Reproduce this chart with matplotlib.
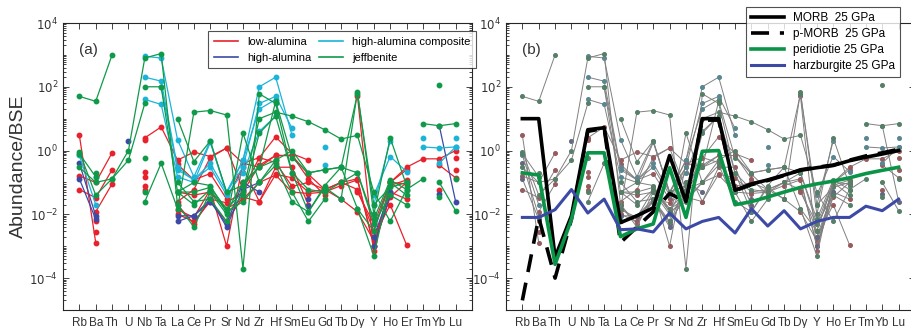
import numpy as np
import matplotlib
matplotlib.use('Agg')
import matplotlib.pyplot as plt
import matplotlib.ticker as mticker
from matplotlib.lines import Line2D

plt.rcParams['font.family'] = ['Liberation Sans', 'DejaVu Sans']

n = np.nan
elements = ['Rb', 'Ba', 'Th', 'U', 'Nb', 'Ta', 'La', 'Ce', 'Pr', 'Sr', 'Nd', 'Zr',
            'Hf', 'Sm', 'Eu', 'Gd', 'Tb', 'Dy', 'Y', 'Ho', 'Er', 'Tm', 'Yb', 'Lu']

# inclusion analyses (Abundance / BSE)
#        Rb    Ba      Th    U    Nb    Ta   La    Ce     Pr    Sr     Nd    Zr    Hf   Sm    Eu    Gd    Tb   Dy   Y       Ho    Er      Tm    Yb    Lu
low_alumina = [
    [3.0,  0.0013, n,    n,   2.5,  5.5, 0.5,  0.9,   0.65, 1.2,   0.4,  0.6,  2.7, 0.8,  0.5,  n,    n,   50,  0.0007, 0.1,  0.3,    0.55, 0.55, 1.0],
    [0.16, 0.1,    0.85, n,   2.2,  n,   0.02, 0.005, 0.03, 0.023, 0.05, 0.35, 0.7, 0.7,  0.18, 0.06, 0.1, 0.13, 0.001, 0.035, 0.1,   n,    n,    n],
    [0.06, 0.033,  0.25, n,   0.22, n,   0.37, 0.12,  0.19, 0.03,  0.3,  0.025, 0.18, 0.14, 0.05, 0.06, 0.1, 0.06, 0.003, 0.1, 0.09,   n,    n,    0.6],
    [n,    0.012,  0.09, n,   0.15, n,   0.025, 0.06, 0.6,  1.2,   0.06, 0.6,  0.42, 0.075, 0.1, 0.06, 0.03, 0.012, 0.0015, 0.05, 0.03, n,  n,    0.25],
    [n,    0.006,  n,    n,   0.075, n,  0.014, 0.008, 0.06, 0.001, 0.4, 0.3,  0.7, 0.7,  0.13, 0.04, n,   n,   0.002,  0.02, 0.0011, n,    n,    n],
    [n,    0.0027, n,    n,   0.06, n,   0.05, 0.04,  0.05, 0.015, 0.03, 0.1,  0.17, 0.05, 0.045, 0.05, 0.08, 0.12, 0.001, 0.08, 0.12, n,   0.06, n],
    [n,    n,      n,    n,   n,    n,   0.01, 0.006, 0.025, 0.006, 0.035, 0.025, 0.3, 0.3, 0.02, n,   n,   0.05, 0.005, 0.1,  0.25,   n,    0.35, 0.14],
]
high_alumina = [
    [0.4,  0.009,  n,    2.0, n,    n,   0.009, 0.009, 0.025, 0.005, 0.1, 0.05, n,   n,    0.03, n,    0.03, n,   0.001,  0.04, n,      n,    6.0,  0.025],
    [0.13, 0.007,  n,    n,   n,    n,   0.006, 0.009, 0.03, 0.004, 0.06, 0.1,  n,   n,    0.018, n,   n,   n,   0.002,  0.05, n,      n,    0.045, n],
]
composite = [
    [0.7,  0.02,   n,    n,   900,  800, 2.2,  0.15,  2.0,  0.045, 0.5,  100,  200, 3.0,  n,    1.3,  n,   n,   0.04,   0.65, 0.22,   n,    n,    2.5],
    [n,    0.15,   n,    n,   200,  150, 0.3,  0.12,  0.4,  0.05,  0.3,  30,   50,  5.0,  n,    0.35, n,   n,   0.02,   2.0,  n,      2.5,  n,    n],
    [n,    n,      n,    n,   40,   28,  0.15, 0.1,   1.8,  0.05,  0.5,  20,   40,  n,    n,    n,    n,   n,   0.01,   n,    n,      1.3,  1.2,  1.3],
    [n,    n,      n,    n,   n,    100, 0.25, 0.12,  0.3,  0.04,  0.2,  4,    12,  n,    n,    n,    n,   n,   0.005,  n,    n,      n,    0.4,  1.3],
]
jeffbenite = [
    [50,   35,     1000, n,   n,    n,   n,    n,     n,    n,     n,    n,    n,   n,    n,    n,    n,   n,   n,      n,    n,      n,    110,  n],
    [0.9,  0.04,   0.13, 1.0, 800,  1100, 0.02, 0.004, 0.05, 0.01,  0.04, 3.5,  12,  0.2,  0.012, 0.07, 0.03, 70, 0.01,   2.5,  0.08,   n,    0.035, n],
    [0.3,  0.1,    0.13, 0.5, 30,   n,   10,   0.45,  2.0,  0.05,  0.08, 0.3,  35,  0.6,  0.2,  0.25, 0.3, 60,  0.02,   0.07, 0.1,    n,    n,    n],
    [n,    n,      n,    n,   100,  100, 0.05, 0.05,  0.07, 0.015, 0.05, 10,   16,  12,   8,    4.5,  2.3, 3.0, 0.05,   0.006, 0.06,  0.13, n,    n],
    [n,    n,      n,    n,   0.025, 0.4, 0.015, 16,  18,   13,    0.0002, 60, 30,  0.2,  0.06, 0.05, 0.1, 0.2, 0.005,  0.04, 0.02,   n,    n,    n],
    [n,    n,      n,    n,   0.6,  n,   0.1,  0.025, 0.03, 0.006, 3.5,  0.1,  0.5, 0.05, 0.006, 0.03, n,  0.015, 0.0005, 0.1, 0.04,  n,    0.1,  0.013],
    [0.8,  0.15,   n,    n,   0.05, n,   0.05, 0.1,   0.08, 0.012, 0.1,  0.3,  0.5, 1.0,  0.2,  0.25, 0.3, 0.015, 0.003, 0.1, n,     7,    6,    7],
    [n,    0.2,    n,    n,   n,    n,   0.05, 0.02,  0.06, 0.012, 0.025, 0.1, 0.35, 0.025, 0.012, 0.08, 0.3, 0.2, 0.007, 0.12, 0.06,  n,    n,    0.13],
]

# 25 GPa model compositions
morb = [10, 10, 4.5e-4, 0.009, 4.5, 5.2, 0.0055, 0.009, 0.016, 0.7, 0.025, 10, 10,
        0.057, 0.09, 0.12, 0.17, 0.24, 0.29, 0.34, 0.48, 0.62, 0.78, 1.0]
p_morb = [2e-5, 0.008, 1e-4, 0.007, 4.0, 5.0, 0.0013, 0.004, 0.012, 0.045, 0.025, 9, 9,
          0.055, 0.085, 0.115, 0.165, 0.25, 0.3, 0.35, 0.5, 0.68, 0.85, 1.1]
peridotite = [0.2, 0.17, 2.7e-4, 0.007, 0.85, 0.85, 0.002, 0.0035, 0.005, 0.29, 0.008, 0.95, 1.0,
              0.02, 0.025, 0.035, 0.05, 0.07, 0.09, 0.11, 0.14, 0.19, 0.24, 0.3]
harzburgite = [0.008, 0.008, 0.014, 0.06, 0.011, 0.03, 0.0033, 0.0035, 0.0028, 0.011, 0.0035, 0.006, 0.008,
               0.0026, 0.015, 0.0043, 0.013, 0.0035, 0.006, 0.008, 0.008, 0.018, 0.013, 0.03]

RED, BLUE, CYAN, GREEN = '#e8222c', '#3c4aa6', '#1ab4d8', '#0f9a4a'
groups = [(low_alumina, RED), (high_alumina, BLUE), (composite, CYAN), (jeffbenite, GREEN)]
x = np.arange(len(elements))
AXC = '#262626'
TXT = '#333333'

fig = plt.figure(figsize=(9.11, 3.28), dpi=100)
W, H = 911, 328
axa = fig.add_axes([63 / W, 18 / H, 409 / W, 287 / H])
axb = fig.add_axes([506 / W, 18 / H, 409 / W, 287 / H])


def style(ax):
    ax.set_yscale('log')
    ax.set_ylim(1e-5, 1e4)
    ax.set_xlim(-1, 24)
    ax.set_xticks(x)
    ax.set_xticklabels(elements)
    ax.yaxis.set_major_locator(mticker.FixedLocator([1e-4, 1e-2, 1e0, 1e2, 1e4]))
    ax.yaxis.set_major_formatter(mticker.FuncFormatter(
        lambda v, p: r'$10^{%d}$' % int(round(np.log10(v)))))
    ax.yaxis.set_minor_locator(mticker.LogLocator(base=10, subs=np.arange(1, 10), numticks=30))
    ax.yaxis.set_minor_formatter(mticker.NullFormatter())
    ax.tick_params(which='both', direction='in', top=True, right=True, colors=AXC,
                   labelcolor=TXT, labelsize=8.5, width=0.6)
    ax.tick_params(which='major', length=4)
    ax.tick_params(which='minor', length=2)
    ax.tick_params(axis='x', pad=5)
    for s in ax.spines.values():
        s.set_color(AXC)
        s.set_linewidth(0.8)


# (a) coloured samples
for data, col in groups:
    for row in data:
        axa.plot(x, row, '-', color=col, lw=0.9, marker='o', ms=3.2, mec=col, mfc=col)
style(axa)
axa.text(0.04, 0.93, '(a)', transform=axa.transAxes, fontsize=11, color=TXT, va='top')
axa.set_ylabel('Abundance/BSE', fontsize=14, color=TXT, labelpad=2)
handles = [Line2D([], [], color=c, lw=1.2) for c in (RED, BLUE, CYAN, GREEN)]
leg = axa.legend(handles, ['low-alumina', 'high-alumina', 'high-alumina composite', 'jeffbenite'],
                 ncol=2, loc='upper left', bbox_to_anchor=(208 / W, 1 - 31 / H), bbox_transform=fig.transFigure,
                 fontsize=8, frameon=True, fancybox=False, edgecolor=AXC, handlelength=2.2,
                 borderaxespad=0, labelspacing=0.55, columnspacing=0.7, borderpad=0.5)
leg.get_frame().set_linewidth(0.8)

# (b) samples in grey with model compositions
grey = np.array([0.45, 0.45, 0.45])
for data, col in groups:
    mcol = 0.3 * np.array(matplotlib.colors.to_rgb(col)) + 0.7 * grey
    for row in data:
        axb.plot(x, row, '-', color='#808080', lw=0.7, marker='o', ms=2.6, mec=mcol, mfc=mcol)
axb.plot(x, morb, '-', color='k', lw=2.6, label='MORB  25 GPa')
axb.plot(x, p_morb, '--', color='k', lw=2.6, dashes=(5, 3), label='p-MORB  25 GPa')
axb.plot(x, peridotite, '-', color='#0a9447', lw=2.6, label='peridiotie 25 GPa')
axb.plot(x, harzburgite, '-', color='#3c4aa6', lw=2.2, label='harzburgite 25 GPa')
style(axb)
axb.text(0.04, 0.93, '(b)', transform=axb.transAxes, fontsize=11, color=TXT, va='top')
leg = axb.legend(loc='upper right', bbox_to_anchor=(900 / W, 1 - 7 / H), bbox_transform=fig.transFigure,
                 fontsize=8.5, frameon=True, fancybox=False, edgecolor=AXC, handlelength=2.8,
                 borderaxespad=0, labelspacing=0.35, borderpad=0.4)
leg.get_frame().set_linewidth(0.8)

fig.savefig('out.png', dpi=100)
